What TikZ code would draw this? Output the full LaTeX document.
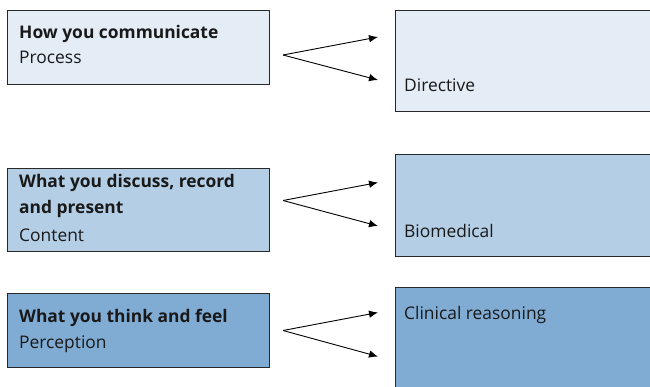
\documentclass[tikz,border=0pt]{standalone}
\usepackage{fontspec}
\setmainfont{Open Sans}
\usetikzlibrary{arrows.meta}
\definecolor{cA}{RGB}{228,236,246}
\definecolor{cB}{RGB}{180,206,230}
\definecolor{cC}{RGB}{128,172,212}
\definecolor{edge}{RGB}{40,40,40}
\definecolor{txt}{RGB}{25,25,25}
\begin{document}
\begin{tikzpicture}[x=1pt,y=-1pt,
  box/.style={draw=edge, line width=0.9pt, anchor=north west, inner sep=0pt},
  lbl/.style={anchor=base west, inner sep=0pt, text=txt, font=\fontsize{17.4}{20}\selectfont},
  hd/.style={lbl, font=\fontsize{17.4}{20}\selectfont\bfseries},
  arr/.style={-{Latex[length=9pt,width=7.5pt]}, line width=0.9pt}]
\clip (0,0) rectangle (650,387);
% left boxes
\node[box, fill=cA, minimum width=262, minimum height=74] (L1) at (7,10) {};
\node[box, fill=cB, minimum width=262, minimum height=83] (L2) at (7,168) {};
\node[box, fill=cC, minimum width=262, minimum height=74] (L3) at (7,293) {};
% right boxes
\node[box, fill=cA, minimum width=270, minimum height=101] (R1) at (395,10) {};
\node[box, fill=cB, minimum width=270, minimum height=102] (R2) at (395,154) {};
\node[box, fill=cC, minimum width=270, minimum height=110] (R3) at (395,287) {};
% texts
\node[hd] (t1a) at (19,39) {How you communicate};
\node[lbl] (t1b) at (19,64) {Process};
\node[hd] (t2a) at (19,188) {What you discuss, record};
\node[hd] (t2b) at (19,214) {and present};
\node[lbl] (t2c) at (19,241.5) {Content};
\node[hd] (t3a) at (19,322.5) {What you think and feel};
\node[lbl] (t3b) at (19,348) {Perception};
\node[lbl] (r1) at (404,92) {Directive};
\node[lbl] (r2) at (404,237) {Biomedical};
\node[lbl] (r3) at (404,319) {Clinical reasoning};
% arrows
\coordinate (v1) at (283,55);
\coordinate (a1) at (378,37);
\coordinate (b1) at (378,80);
\coordinate (v2) at (283,200.5);
\coordinate (a2) at (378,182.5);
\coordinate (b2) at (378,226);
\coordinate (v3) at (283,330.5);
\coordinate (a3) at (378,312.5);
\coordinate (b3) at (378,356.5);
\draw[arr] (v1) -- (a1);
\draw[arr] (v1) -- (b1);
\draw[arr] (v2) -- (a2);
\draw[arr] (v2) -- (b2);
\draw[arr] (v3) -- (a3);
\draw[arr] (v3) -- (b3);
\end{tikzpicture}
\end{document}
